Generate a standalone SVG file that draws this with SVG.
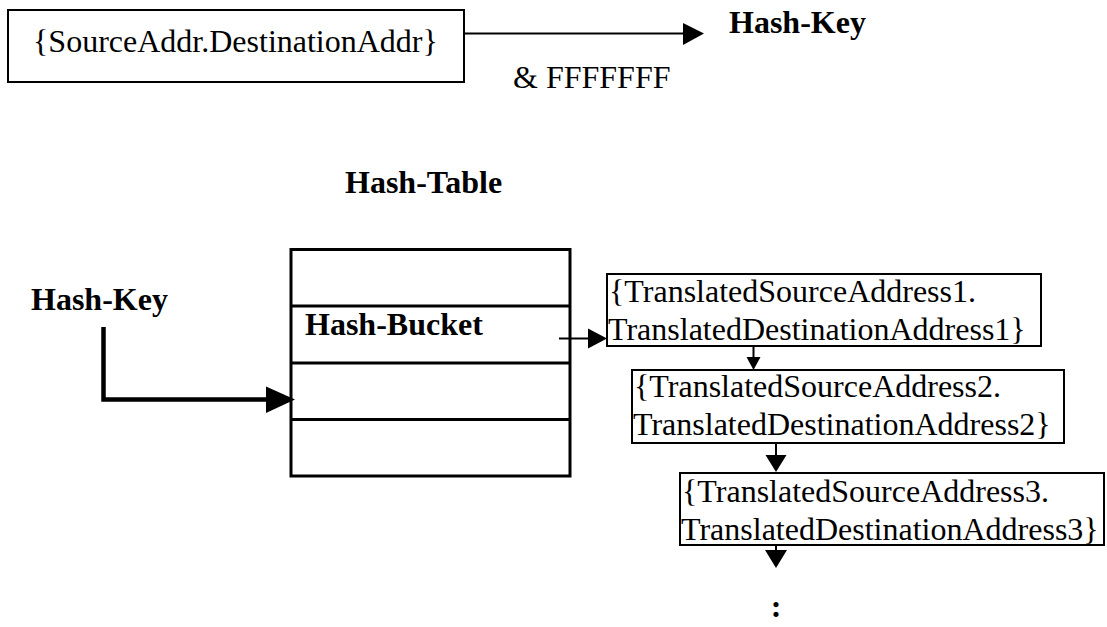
<svg xmlns="http://www.w3.org/2000/svg" width="1107" height="627" viewBox="0 0 1107 627">
<style>
.t{font-family:"Liberation Serif","Times New Roman",serif;font-size:32px;fill:#000}
.b{font-weight:bold}
.box{fill:#fff;stroke:#000;stroke-width:2}
.tbl{fill:none;stroke:#000;stroke-width:3}
.ln{fill:none;stroke:#000;stroke-width:2}
.head{fill:#000;stroke:none}
</style>
<rect width="1107" height="627" fill="#fff"/>
<g id="source">
<rect class="box" x="8" y="10" width="456" height="72"/>
<text class="t" x="33" y="52" font-size="31">{SourceAddr.DestinationAddr}</text>
</g>
<g id="hashkey-top"><text class="t b" x="729" y="33">Hash-Key</text></g>
<g id="mask-label"><text class="t" x="513" y="88">&amp; FFFFFFF</text></g>
<g id="hashtable-title"><text class="t b" x="345" y="193">Hash-Table</text></g>
<g id="hashkey-left"><text class="t b" x="31" y="310">Hash-Key</text></g>
<g id="hashtable">
<rect class="tbl" x="291" y="249.5" width="279" height="226.5"/>
<line class="tbl" x1="291" y1="306" x2="570" y2="306"/>
<line class="tbl" x1="291" y1="363" x2="570" y2="363"/>
<line class="tbl" x1="291" y1="419.5" x2="570" y2="419.5"/>
<text class="t b" x="305" y="335">Hash-Bucket</text>
</g>
<g id="entry1">
<rect class="box" x="607" y="274" width="434" height="72"/>
<text class="t" x="609" y="302">{TranslatedSourceAddress1.</text>
<text class="t" x="608" y="340">TranslatedDestinationAddress1}</text>
</g>
<g id="entry2">
<rect class="box" x="632" y="370" width="432" height="73"/>
<text class="t" x="634" y="397">{TranslatedSourceAddress2.</text>
<text class="t" x="633" y="435">TranslatedDestinationAddress2}</text>
</g>
<g id="entry3">
<rect class="box" x="680" y="473" width="424" height="72"/>
<text class="t" x="682" y="502">{TranslatedSourceAddress3.</text>
<text class="t" x="681" y="540">TranslatedDestinationAddress3}</text>
</g>
<g id="more"><text class="t b" x="776" y="617" text-anchor="middle" font-size="44">:</text></g>
<g id="connectors">
<line class="ln" x1="464" y1="33.5" x2="684" y2="33.5"/>
<polygon class="head" points="683,23 704,33.5 683,45"/>
<polyline fill="none" stroke="#000" stroke-width="4.5" points="103.5,327 103.5,399.5 268,399.5"/>
<polygon class="head" points="266,386.5 295,399.5 266,413"/>
<line class="ln" x1="559" y1="338.5" x2="589" y2="338.5"/>
<polygon class="head" points="588,328.5 607,338.5 588,348.5"/>
<line class="ln" x1="753.5" y1="346" x2="753.5" y2="358"/>
<polygon class="head" points="746.5,357 760.5,357 753.5,370"/>
<line class="ln" x1="776" y1="443" x2="776" y2="456"/>
<polygon class="head" points="765.5,455 786.5,455 776,472"/>
<line class="ln" x1="776" y1="545" x2="776" y2="551"/>
<polygon class="head" points="765,550 787,550 776,568"/>
</g>
</svg>
